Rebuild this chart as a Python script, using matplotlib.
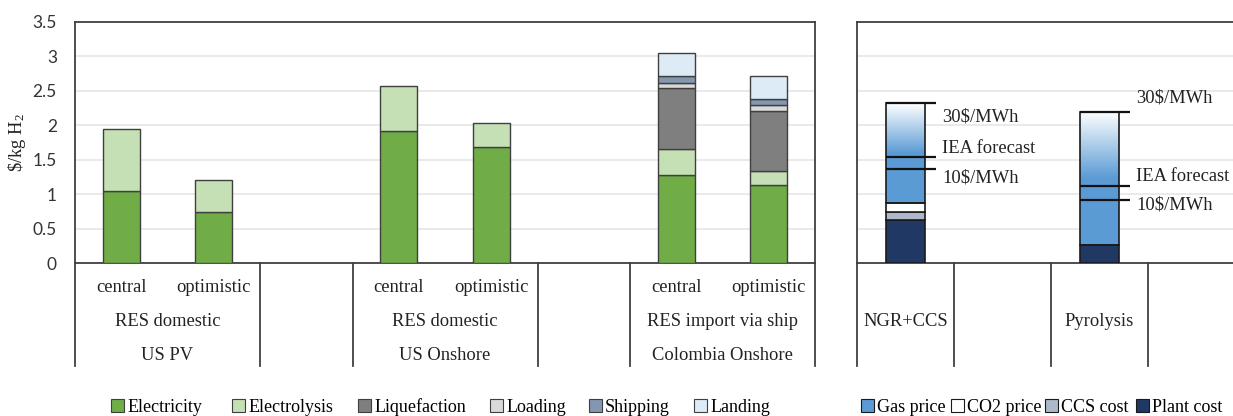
import numpy as np
import matplotlib
matplotlib.use("Agg")
import matplotlib.pyplot as plt
from matplotlib.patches import Patch
import matplotlib.transforms as mtransforms

# ---------------- data ----------------
left_subcats = ["central", "optimistic", "", "central", "optimistic", "", "central", "optimistic"]
left_groups_mid = ["RES domestic", "", "RES domestic", "", "RES import via ship"]
left_groups_top = ["US PV", "", "US Onshore", "", "Colombia Onshore"]
left_group_sizes = [2, 1, 2, 1, 2]

left_series = ["Electricity", "Electrolysis", "Liquefaction", "Loading", "Shipping", "Landing"]
electricity = [1.05, 0.74, np.nan, 1.92, 1.68, np.nan, 1.28, 1.13]
electrolysis = [0.90, 0.46, np.nan, 0.65, 0.35, np.nan, 0.38, 0.20]
liquefaction = [0, 0, np.nan, 0, 0, np.nan, 0.88, 0.88]
loading = [0, 0, np.nan, 0, 0, np.nan, 0.08, 0.08]
shipping = [0, 0, np.nan, 0, 0, np.nan, 0.09, 0.09]
landing = [0, 0, np.nan, 0, 0, np.nan, 0.34, 0.33]

right_cats = ["NGR+CCS", "", "Pyrolysis", ""]
right_series = ["Gas price", "CO2 price", "CCS cost", "Plant cost"]
plant_cost = [0.62, np.nan, 0.26, np.nan]
ccs_cost = [0.12, np.nan, 0.0, np.nan]
co2_price = [0.13, np.nan, 0.0, np.nan]
gas_price = [1.45, np.nan, 1.94, np.nan]
marker_labels = ["30$/MWh", "IEA forecast", "10$/MWh"]
marker_levels = {0: [2.32, 1.54, 1.37], 2: [2.20, 1.12, 0.91]}

# ---------------- style ----------------
W, H = 1233, 416
plt.rcParams["mathtext.fontset"] = "custom"
plt.rcParams["mathtext.rm"] = "Liberation Serif"
plt.rcParams["mathtext.it"] = "Liberation Serif:italic"
fig = plt.figure(figsize=(W / 100, H / 100), dpi=100)
serif = ["Liberation Serif", "DejaVu Serif"]
sans = ["Lato", "DejaVu Sans"]
FS = 13.3
LFS = 13.0
TXT = "#222222"

left_colors = ["#70AD47", "#C5E0B4", "#7F7F7F", "#D9D9D9", "#8497B0", "#DDEBF7"]
right_colors = {"Gas price": "#5B9BD5", "CO2 price": "#FFFFFF", "CCS cost": "#ADB9CA", "Plant cost": "#203864"}
edge = "#3F3F3F"
frame = "#404040"

def px_ax(x0, y0, x1, y1):
    return [x0 / W, 1 - y1 / H, (x1 - x0) / W, (y1 - y0) / H]

axL = fig.add_axes(px_ax(75, 22, 815, 263))
axR = fig.add_axes(px_ax(857, 22, 857 + 4 * 97, 263))

BW = 0.40
for ax in (axL, axR):
    ax.set_ylim(0, 3.5)
    ax.set_yticks(np.arange(0, 3.51, 0.5))
    ax.grid(axis="y", color="#E6E6E6", lw=1.2)
    ax.set_axisbelow(True)
    ax.set_xticks([])
    for s in ax.spines.values():
        s.set_color(frame)
        s.set_linewidth(1.3)
    ax.tick_params(axis="y", length=0)

axL.set_yticklabels(["0", "0.5", "1", "1.5", "2", "2.5", "3", "3.5"], fontfamily=sans, fontsize=12.5, color="#333333")
axL.tick_params(axis="y", pad=13)
axR.set_yticklabels([])
axL.set_ylabel(r"\$/kg H$_{\mathrm{2}}$", fontfamily=serif, fontsize=FS, color=TXT)
axL.yaxis.set_label_coords(-0.064, 0.5)

# ---------------- left bars ----------------
xL = np.arange(len(left_subcats))
bottom = np.zeros(len(xL))
for name, vals, col in zip(left_series, [electricity, electrolysis, liquefaction, loading, shipping, landing], left_colors):
    v = np.nan_to_num(np.array(vals, dtype=float))
    mask = v > 0
    axL.bar(xL[mask], v[mask], BW, bottom=bottom[mask], color=col, edgecolor=edge, lw=1.0, zorder=3)
    bottom = bottom + v
axL.set_xlim(-0.5, len(xL) - 0.5)

# ---------------- right bars ----------------
xR = np.arange(len(right_cats))
bottom = np.zeros(len(xR))
for name, vals in zip(["Plant cost", "CCS cost", "CO2 price", "Gas price"], [plant_cost, ccs_cost, co2_price, gas_price]):
    v = np.nan_to_num(np.array(vals, dtype=float))
    for i in xR:
        if v[i] <= 0:
            continue
        if name == "Gas price":
            n = 200
            t = np.linspace(0, 1, n)
            f = np.clip(t / 0.5, 0, 1)
            blue = np.array(matplotlib.colors.to_rgb(right_colors[name]))
            grad = (1 - f)[:, None] * np.ones(3) + f[:, None] * blue
            grad = grad[:, None, :]
            axR.imshow(grad, extent=[i - BW / 2, i + BW / 2, bottom[i], bottom[i] + v[i]],
                       aspect="auto", origin="upper", zorder=3, interpolation="bilinear")
            axR.bar(i, v[i], BW, bottom=bottom[i], facecolor="none", edgecolor="#1a1a1a", lw=1.2, zorder=4)
        else:
            axR.bar(i, v[i], BW, bottom=bottom[i], color=right_colors[name], edgecolor="#1a1a1a", lw=1.2, zorder=4)
    bottom = bottom + v
axR.set_xlim(-0.5, len(xR) - 0.5)

# marker lines + labels
text_offsets = {0: [-10, 6, -7], 2: [10, 7, -3]}
for i, levels in marker_levels.items():
    for lab, lev, dy in zip(marker_labels, levels, text_offsets[i]):
        axR.plot([i - BW / 2, i + 0.31], [lev, lev], color="#111111", lw=1.6, zorder=5, solid_capstyle="butt")
        axR.annotate(lab.replace("$", r"\$"), xy=(i + 0.38, lev), xytext=(0, dy), textcoords="offset points",
                     ha="left", va="center", fontfamily=serif, fontsize=FS, color=TXT, zorder=6)

# ---------------- hierarchical category axes ----------------
def cat_axis(ax, subcats, rows, sizes):
    tr = mtransforms.blended_transform_factory(ax.transData, ax.transAxes)
    line_bottom = -103 / 241
    row_y = [-24 / 241, -59 / 241, -92 / 241]
    for k, s in enumerate(subcats):
        if s:
            ax.text(k, row_y[0], s, transform=tr, ha="center", va="center",
                    fontfamily=serif, fontsize=FS, color=TXT)
    edges = np.concatenate([[0], np.cumsum(sizes)]) - 0.5
    for e in edges:
        ax.plot([e, e], [0, line_bottom], transform=tr, color=frame, lw=1.3, clip_on=False)
    for r, labels in enumerate(rows):
        for g, lab in enumerate(labels):
            if lab:
                c = (edges[g] + edges[g + 1]) / 2
                ax.text(c, row_y[r + 1], lab, transform=tr, ha="center", va="center",
                        fontfamily=serif, fontsize=FS, color=TXT)

cat_axis(axL, left_subcats, [left_groups_mid, left_groups_top], left_group_sizes)

trR = mtransforms.blended_transform_factory(axR.transData, axR.transAxes)
for e in np.arange(len(right_cats) + 1) - 0.5:
    axR.plot([e, e], [0, -103 / 241], transform=trR, color=frame, lw=1.3, clip_on=False)
for k, s in enumerate(right_cats):
    if s:
        axR.text(k, -59 / 241, s, transform=trR, ha="center", va="center",
                 fontfamily=serif, fontsize=FS, color=TXT)

# ---------------- legends (one entry each, placed like the reference) ----------------
leg_x_left = [111, 232, 358, 490, 589, 694]
leg_x_right = [861, 951, 1045, 1136]
def put_entry(label, color, ec, x):
    fig.legend([Patch(facecolor=color, edgecolor=ec, lw=0.8)], [label], loc="center left",
               bbox_to_anchor=(x / W, 1 - 407 / H), frameon=False,
               prop={"family": serif, "size": LFS}, handlelength=0.7, handleheight=0.7,
               handletextpad=0.2, borderaxespad=0, borderpad=0)
for lab, col, x in zip(left_series, left_colors, leg_x_left):
    put_entry(lab, col, edge, x)
for lab, x in zip(right_series, leg_x_right):
    put_entry(lab, right_colors[lab], "#1a1a1a", x)

fig.savefig("out.png", dpi=100)
